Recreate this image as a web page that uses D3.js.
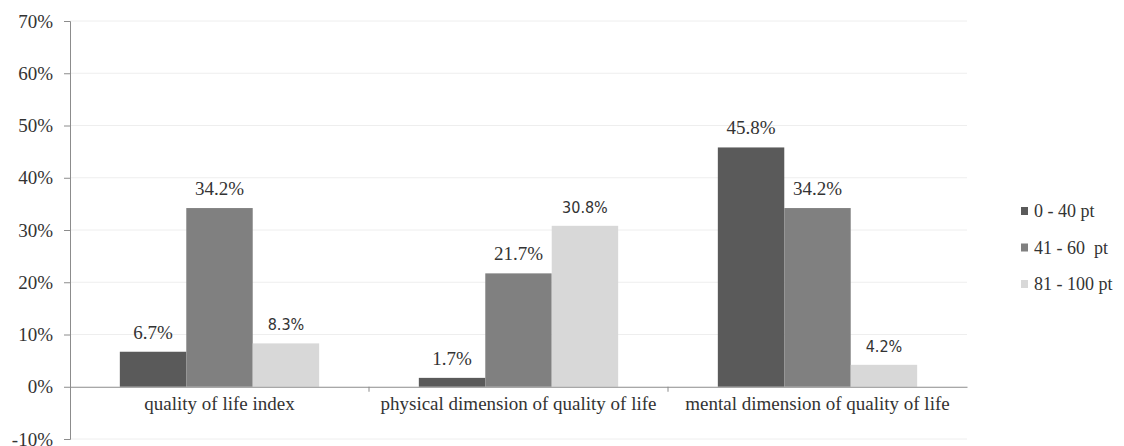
<!DOCTYPE html>
<html>
<head>
<meta charset="utf-8">
<script src="https://cdn.jsdelivr.net/npm/d3@7"></script>
<style>
  body { margin: 0; background: #fff; }
  svg { display: block; }
</style>
</head>
<body>
<svg id="chart" width="1124" height="446"></svg>
<script>
var categories = ["quality of life index", "physical dimension of quality of life", "mental dimension of quality of life"]
var seriesNames = ["0 - 40 pt", "41 - 60  pt", "81 - 100 pt"]
var seriesColors = ["#5a5a5a", "#808080", "#d8d8d8"]
var low = [6.7, 1.7, 45.8]
var mid = [34.2, 21.7, 34.2]
var high = [8.3, 30.8, 4.2]
var yTicks = [-10, 0, 10, 20, 30, 40, 50, 60, 70]

var series = [low, mid, high]

var svg = d3.select("#chart")
var plotLeft = 70, plotRight = 967, plotTop = 21, plotBottom = 439
var serif = "Liberation Serif, Times New Roman, serif"

var x = d3.scaleBand().domain(categories).range([plotLeft, plotRight]).paddingInner(0).paddingOuter(0)
var xs = d3.scaleBand().domain([0, 1, 2]).range([0, x.bandwidth()]).paddingInner(0).paddingOuter(0.75)
var y = d3.scaleLinear().domain([-10, 70]).range([plotBottom, plotTop])

// grid lines
svg.append("g")
  .selectAll("line")
  .data(yTicks.filter(function(d) { return d != 0 }))
  .enter().append("line")
  .attr("x1", plotLeft).attr("x2", plotRight)
  .attr("y1", function(d) { return y(d) }).attr("y2", function(d) { return y(d) })
  .attr("stroke", "#eeeeee").attr("stroke-width", 1)

// y axis
var yAxis = d3.axisLeft(y).tickValues(yTicks).tickSize(6).tickFormat(function(d) { return d + "%" })
var gy = svg.append("g").attr("transform", "translate(" + plotLeft + ",0)").call(yAxis)
gy.select(".domain").attr("stroke", "#8c8c8c")
gy.selectAll(".tick line").attr("stroke", "#8c8c8c")
gy.selectAll(".tick text")
  .attr("font-family", serif)
  .attr("font-size", 19).attr("fill", "#333").attr("x", -17)

// bars
for (var s = 0; s < series.length; s++) {
  svg.append("g")
    .selectAll("rect")
    .data(series[s])
    .enter().append("rect")
    .attr("x", function(d, i) { return x(categories[i]) + xs(s) })
    .attr("width", xs.bandwidth())
    .attr("y", function(d) { return y(d) })
    .attr("height", function(d) { return y(0) - y(d) })
    .attr("fill", seriesColors[s])

  svg.append("g")
    .selectAll("text")
    .data(series[s])
    .enter().append("text")
    .attr("x", function(d, i) { return x(categories[i]) + xs(s) + xs.bandwidth() / 2 })
    .attr("y", function(d) { return y(d) - 13 })
    .attr("text-anchor", "middle")
    .attr("font-family", s == 2 ? "DejaVu Sans Condensed, DejaVu Sans, sans-serif" : serif)
    .attr("font-size", s == 2 ? 16 : 19)
    .attr("fill", "#333")
    .text(function(d) { return d.toFixed(1) + "%" })
}

// zero line / category axis
var xAxis = d3.axisBottom(x).tickSize(0).tickSizeOuter(0)
var gx = svg.append("g").attr("transform", "translate(0," + y(0) + ")").call(xAxis)
gx.select(".domain").attr("stroke", "#8c8c8c")
gx.selectAll(".tick text")
  .attr("font-family", serif)
  .attr("font-size", 19).attr("fill", "#333").attr("dy", "1.05em")
svg.append("g").selectAll("line")
  .data(categories.slice(1))
  .enter().append("line")
  .attr("x1", function(d) { return x(d) }).attr("x2", function(d) { return x(d) })
  .attr("y1", y(0)).attr("y2", y(0) + 5)
  .attr("stroke", "#8c8c8c")

// legend
var legend = svg.append("g").attr("transform", "translate(1021,211)")
legend.selectAll("rect")
  .data(seriesNames)
  .enter().append("rect")
  .attr("x", 0).attr("y", function(d, i) { return i * 36.5 - 4 })
  .attr("width", 7).attr("height", 8)
  .attr("fill", function(d, i) { return seriesColors[i] })
legend.selectAll("text")
  .data(seriesNames)
  .enter().append("text")
  .attr("x", 13).attr("y", function(d, i) { return i * 36.5 + 6 })
  .attr("font-family", serif)
  .attr("font-size", 18).attr("fill", "#333")
  .attr("xml:space", "preserve")
  .style("white-space", "pre")
  .text(function(d) { return d })
</script>
</body>
</html>
